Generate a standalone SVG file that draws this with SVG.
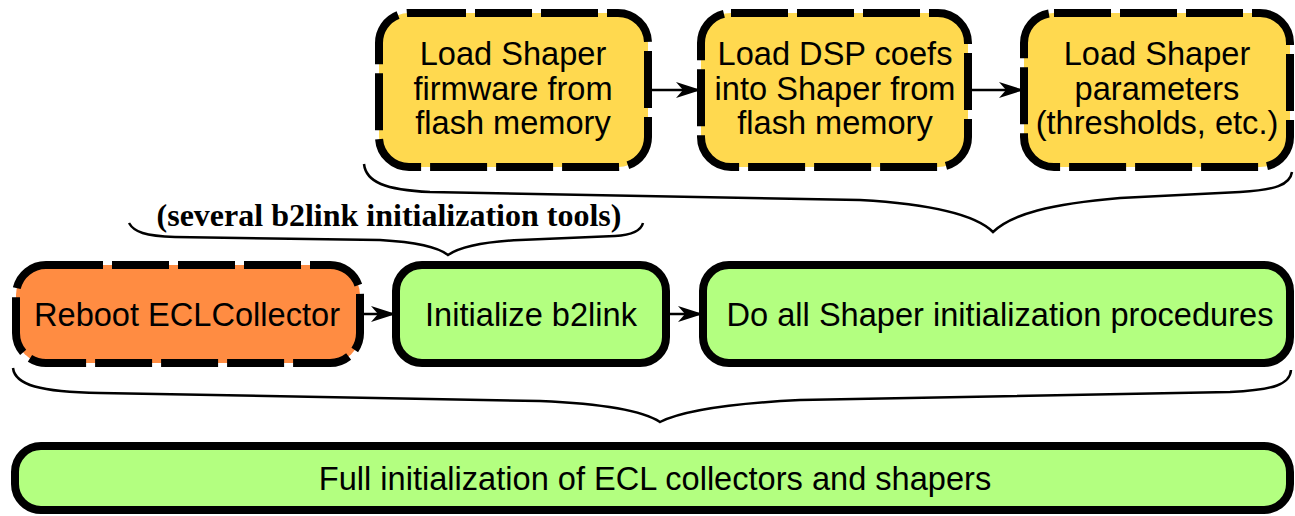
<svg xmlns="http://www.w3.org/2000/svg" width="1295" height="516" viewBox="0 0 1295 516">
<defs>
<style>
.dash{stroke:#000;stroke-width:8;stroke-dasharray:57 9}
.solid{stroke:#000;stroke-width:8}
.y{fill:#FFD94F}
.o{fill:#FF8C42}
.g{fill:#B3FF80}
.t{font-family:"Liberation Sans",Arial,sans-serif;font-size:32.6px;fill:#000;text-anchor:middle}
.b{font-family:"Liberation Serif","Times New Roman",serif;font-weight:bold;font-size:32px;fill:#000;text-anchor:middle}
.c{stroke:#000;stroke-width:2.5;fill:none}
.br{stroke:#000;stroke-width:2.5;fill:none}
</style>
<marker id="ah" markerWidth="26" markerHeight="18" refX="24" refY="9" orient="auto" markerUnits="userSpaceOnUse">
<path d="M0,1 L25,9 L0,17 L7,9 Z" fill="#000"/>
</marker>
</defs>
<g id="n1"><rect class="y dash" x="379" y="13" width="269" height="154" rx="30"/>
<text class="t" x="513" y="65">Load Shaper</text><text class="t" x="513" y="100">firmware from</text><text class="t" x="513" y="134">flash memory</text></g>
<g id="n2"><rect class="y dash" x="701" y="13" width="267" height="154" rx="30"/>
<text class="t" x="835" y="65">Load DSP coefs</text><text class="t" x="835" y="100">into Shaper from</text><text class="t" x="835" y="134">flash memory</text></g>
<g id="n3"><rect class="y dash" x="1024" y="13" width="266" height="154" rx="30"/>
<text class="t" x="1157" y="65">Load Shaper</text><text class="t" x="1157" y="100">parameters</text><text class="t" x="1157" y="134">(thresholds, etc.)</text></g>
<g id="n4"><rect class="o dash" x="16" y="265" width="344" height="98" rx="30"/>
<text class="t" x="187" y="326">Reboot ECLCollector</text></g>
<g id="n5"><rect class="g solid" x="396" y="265" width="270" height="98" rx="26"/>
<text class="t" x="531" y="326">Initialize b2link</text></g>
<g id="n6"><rect class="g solid" x="703" y="265" width="587" height="98" rx="26"/>
<text class="t" x="1000" y="326">Do all Shaper initialization procedures</text></g>
<g id="n7"><rect class="g solid" x="15" y="446" width="1275" height="64" rx="26"/>
<text class="t" x="655" y="490">Full initialization of ECL collectors and shapers</text></g>
<g id="label"><text class="b" x="389" y="226">(several b2link initialization tools)</text></g>
<g id="connectors">
<path class="c" d="M648,90 L700,90" marker-end="url(#ah)"/>
<path class="c" d="M968,90 L1023,90" marker-end="url(#ah)"/>
<path class="c" d="M360,314 L395,314" marker-end="url(#ah)"/>
<path class="c" d="M666,314 L702,314" marker-end="url(#ah)"/>
<path class="br" d="M364,164 C366,182 385,190 430,192 L860,200 C930,204 975,214 993,232 C1012,214 1050,204 1120,198 L1240,192 C1275,190 1290,185 1292,172"/>
<path class="br" d="M129,223 C134,232 145,236 175,237 L380,240 C415,242 438,247 448,255 C460,247 480,242 520,240 L615,236 C632,235 641,231 643,223"/>
<path class="br" d="M13,368 C15,385 40,392 100,393 L540,401 C610,404 645,412 660,422 C680,412 720,404 800,400 L1230,392 C1275,390 1290,384 1291,370"/>
</g>
</svg>
